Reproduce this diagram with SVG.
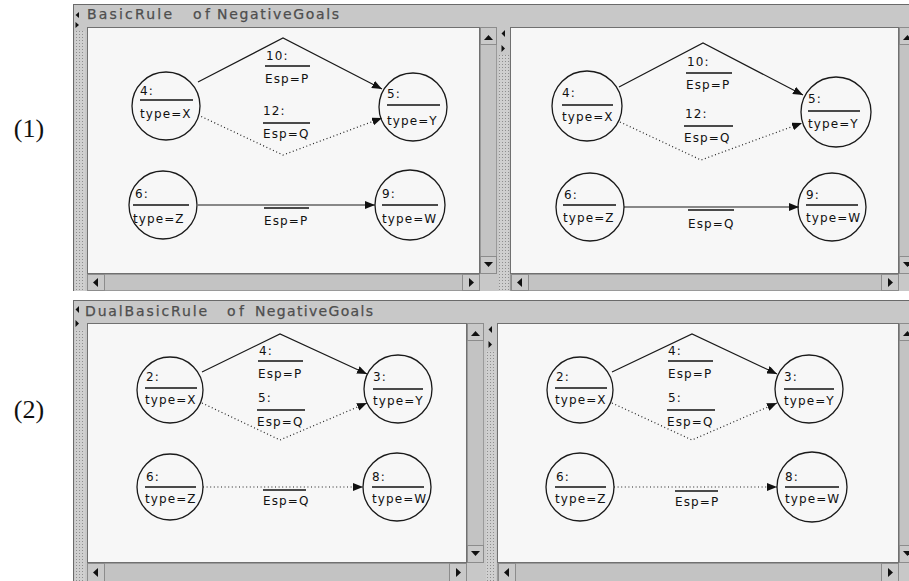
<svg xmlns="http://www.w3.org/2000/svg" width="909" height="581" viewBox="0 0 909 581">
<defs>
<style>
.win{fill:#c8c8c8}
.edge{stroke:#6a6a6a;stroke-width:1}
.canvas{fill:#f7f7f7;stroke:#707070;stroke-width:1}
.track{fill:#c3c3c3;stroke:#9a9a9a;stroke-width:1}
.btn{fill:#c9c9c9;stroke:#8c8c8c;stroke-width:1}
.tri{fill:#111}
.title{font-family:"DejaVu Sans","Liberation Sans",sans-serif;font-size:14px;fill:#4e4e4e;stroke:#4e4e4e;stroke-width:0.25}
.num{font-family:"Liberation Serif","DejaVu Serif",serif;font-size:26px;fill:#111}
.node circle{fill:none;stroke:#1a1a1a;stroke-width:1.3}
.nl{font-family:"DejaVu Sans","Liberation Sans",sans-serif;font-size:12px;fill:#111;letter-spacing:1.1px}
.ul{stroke:#111;stroke-width:1.5}
.solid{fill:none;stroke:#1a1a1a;stroke-width:1.2}
.dot{fill:none;stroke:#222;stroke-width:1.2;stroke-dasharray:1 2.6}
</style>
<pattern id="grip" width="3" height="3" patternUnits="userSpaceOnUse">
<rect width="3" height="3" fill="#cfcfcf"/>
<rect x="1" y="1" width="1" height="1" fill="#8e8e8e"/>
</pattern>
<marker id="arr" markerWidth="10" markerHeight="8" refX="10" refY="4" orient="auto" markerUnits="userSpaceOnUse">
<path d="M0,0 L10,4 L0,8 z" fill="#111"/>
</marker>
</defs>
<rect width="909" height="581" fill="#ffffff"/>

<!-- labels (1) (2) -->
<text class="num" x="29" y="137" text-anchor="middle">(1)</text>
<text class="num" x="29" y="418" text-anchor="middle">(2)</text>

<!-- ===== Top window frame ===== -->
<g id="window-top">
<rect class="win" x="73" y="4" width="840" height="287"/>
<line class="edge" x1="73" y1="4.5" x2="909" y2="4.5"/>
<line class="edge" x1="73.5" y1="4" x2="73.5" y2="291"/>
<text class="title" x="87" y="19" textLength="85" lengthAdjust="spacing">BasicRule</text>
<text class="title" x="193" y="19" textLength="17" lengthAdjust="spacing">of</text>
<text class="title" x="217" y="19" textLength="122" lengthAdjust="spacing">NegativeGoals</text>
<rect x="75" y="31" width="10" height="260" fill="url(#grip)"/>
<path class="tri" d="M79,12 L75.5,15 L79,18 z"/>
<path class="tri" d="M75.5,22 L79,25 L75.5,28 z"/>
<!-- left canvas -->
<rect class="canvas" x="87.5" y="27.5" width="392" height="246"/>
<rect class="track" x="480.5" y="27.5" width="16" height="246"/>
<rect class="btn" x="480.5" y="27.5" width="16" height="17"/>
<path class="tri" d="M484,40 L488.5,35 L493,40 z"/>
<rect class="btn" x="480.5" y="256.5" width="16" height="17"/>
<path class="tri" d="M484,262 L488.5,267 L493,262 z"/>
<rect class="track" x="87.5" y="274.5" width="392" height="16"/>
<rect class="btn" x="87.5" y="274.5" width="17" height="16"/>
<path class="tri" d="M98,278 L93,282.5 L98,287 z"/>
<rect class="btn" x="462.5" y="274.5" width="17" height="16"/>
<path class="tri" d="M469,278 L474,282.5 L469,287 z"/>
<!-- middle splitter -->
<rect x="499" y="55" width="10" height="236" fill="url(#grip)"/>
<path class="tri" d="M505,30 L501.5,33.5 L505,37 z"/>
<path class="tri" d="M501.5,45 L505,48.5 L501.5,52 z"/>
<!-- right canvas -->
<rect class="canvas" x="510.5" y="27.5" width="388" height="246"/>
<rect class="track" x="899.5" y="27.5" width="16" height="246"/>
<rect class="btn" x="899.5" y="27.5" width="16" height="17"/>
<path class="tri" d="M903,40 L907.5,35 L912,40 z"/>
<rect class="btn" x="899.5" y="256.5" width="16" height="17"/>
<path class="tri" d="M903,262 L907.5,267 L912,262 z"/>
<rect class="track" x="510.5" y="274.5" width="388" height="16"/>
<rect class="btn" x="511.5" y="274.5" width="17" height="16"/>
<path class="tri" d="M522,278 L517,282.5 L522,287 z"/>
<rect class="btn" x="881.5" y="274.5" width="17" height="16"/>
<path class="tri" d="M888,278 L893,282.5 L888,287 z"/>
</g>

<!-- ===== Bottom window frame ===== -->
<g id="window-bottom">
<rect class="win" x="73" y="300" width="840" height="281"/>
<line class="edge" x1="73" y1="300.5" x2="909" y2="300.5"/>
<line class="edge" x1="73.5" y1="300" x2="73.5" y2="581"/>
<text class="title" x="85" y="316" textLength="122" lengthAdjust="spacing">DualBasicRule</text>
<text class="title" x="227" y="316" textLength="17" lengthAdjust="spacing">of</text>
<text class="title" x="255" y="316" textLength="118" lengthAdjust="spacing">NegativeGoals</text>
<rect x="75" y="330" width="10" height="251" fill="url(#grip)"/>
<path class="tri" d="M79,306 L75.5,309.5 L79,313 z"/>
<path class="tri" d="M75.5,320 L79,323.5 L75.5,327 z"/>
<!-- left canvas -->
<rect class="canvas" x="87.5" y="323.5" width="379" height="239"/>
<rect class="track" x="467.5" y="323.5" width="16" height="239"/>
<rect class="btn" x="467.5" y="323.5" width="16" height="17"/>
<path class="tri" d="M471,336 L475.5,331 L480,336 z"/>
<rect class="btn" x="467.5" y="545.5" width="16" height="17"/>
<path class="tri" d="M471,551 L475.5,556 L480,551 z"/>
<rect class="track" x="87.5" y="563.5" width="379" height="18"/>
<rect class="btn" x="87.5" y="563.5" width="17" height="18"/>
<path class="tri" d="M98,568 L93,572.5 L98,577 z"/>
<rect class="btn" x="449.5" y="563.5" width="17" height="18"/>
<path class="tri" d="M456,568 L461,572.5 L456,577 z"/>
<!-- middle splitter -->
<rect x="486" y="351" width="10" height="230" fill="url(#grip)"/>
<path class="tri" d="M492,326 L488.5,329.5 L492,333 z"/>
<path class="tri" d="M488.5,341 L492,344.5 L488.5,348 z"/>
<!-- right canvas -->
<rect class="canvas" x="497.5" y="323.5" width="401" height="239"/>
<rect class="track" x="899.5" y="323.5" width="16" height="239"/>
<rect class="btn" x="899.5" y="323.5" width="16" height="17"/>
<path class="tri" d="M903,336 L907.5,331 L912,336 z"/>
<rect class="btn" x="899.5" y="545.5" width="16" height="17"/>
<path class="tri" d="M903,551 L907.5,556 L912,551 z"/>
<rect class="track" x="497.5" y="563.5" width="401" height="18"/>
<rect class="btn" x="498.5" y="563.5" width="17" height="18"/>
<path class="tri" d="M509,568 L504,572.5 L509,577 z"/>
<rect class="btn" x="881.5" y="563.5" width="17" height="18"/>
<path class="tri" d="M888,568 L893,572.5 L888,577 z"/>
</g>

<!-- ===== Connectors ===== -->
<g id="connectors">
<!-- top-left -->
<polyline class="solid" points="198,82 283,38 382,89" marker-end="url(#arr)"/>
<polyline class="dot" points="198,115 283,155 382,118" marker-end="url(#arr)"/>
<line class="solid" x1="198" y1="205" x2="375" y2="205" marker-end="url(#arr)"/>
<!-- top-right -->
<polyline class="solid" points="619,87 703,43 803,95" marker-end="url(#arr)"/>
<polyline class="dot" points="620,122 701,160 802,123" marker-end="url(#arr)"/>
<line class="solid" x1="624" y1="207" x2="799" y2="207" marker-end="url(#arr)"/>
<!-- bottom-left -->
<polyline class="solid" points="202,372 280,334 367,374" marker-end="url(#arr)"/>
<polyline class="dot" points="202,403 280,440 367,403" marker-end="url(#arr)"/>
<line class="dot" x1="203" y1="487" x2="363" y2="487" marker-end="url(#arr)"/>
<!-- bottom-right -->
<polyline class="solid" points="612,372 692,334 777,374" marker-end="url(#arr)"/>
<polyline class="dot" points="612,403 692,440 777,403" marker-end="url(#arr)"/>
<line class="dot" x1="614" y1="487" x2="777" y2="487" marker-end="url(#arr)"/>
</g>

<!-- ===== Edge labels ===== -->
<g id="edge-labels">
<g id="tl-e10"><text class="nl" x="266" y="60">10:</text><line class="ul" x1="265" y1="66" x2="310" y2="66"/><text class="nl" x="265" y="83">Esp=P</text></g>
<g id="tl-e12"><text class="nl" x="263" y="115">12:</text><line class="ul" x1="263" y1="123" x2="310" y2="123"/><text class="nl" x="263" y="138">Esp=Q</text></g>
<g id="tl-e"><line class="ul" x1="264" y1="208" x2="309" y2="208"/><text class="nl" x="264" y="225">Esp=P</text></g>
<g id="tr-e10"><text class="nl" x="687" y="66">10:</text><line class="ul" x1="686" y1="73" x2="732" y2="73"/><text class="nl" x="686" y="89">Esp=P</text></g>
<g id="tr-e12"><text class="nl" x="685" y="118">12:</text><line class="ul" x1="684" y1="126" x2="733" y2="126"/><text class="nl" x="684" y="142">Esp=Q</text></g>
<g id="tr-e"><line class="ul" x1="688" y1="210" x2="734" y2="210"/><text class="nl" x="688" y="228">Esp=Q</text></g>
<g id="bl-e4"><text class="nl" x="259" y="355">4:</text><line class="ul" x1="258" y1="361" x2="303" y2="361"/><text class="nl" x="258" y="378">Esp=P</text></g>
<g id="bl-e5"><text class="nl" x="258" y="402">5:</text><line class="ul" x1="257" y1="410" x2="305" y2="410"/><text class="nl" x="257" y="426">Esp=Q</text></g>
<g id="bl-e"><line class="ul" x1="263" y1="490" x2="306" y2="490"/><text class="nl" x="263" y="505">Esp=Q</text></g>
<g id="br-e4"><text class="nl" x="668" y="355">4:</text><line class="ul" x1="668" y1="361" x2="713" y2="361"/><text class="nl" x="668" y="378">Esp=P</text></g>
<g id="br-e5"><text class="nl" x="668" y="402">5:</text><line class="ul" x1="667" y1="410" x2="715" y2="410"/><text class="nl" x="667" y="426">Esp=Q</text></g>
<g id="br-e"><line class="ul" x1="675" y1="491" x2="718" y2="491"/><text class="nl" x="675" y="506">Esp=P</text></g>
</g>

<!-- ===== Nodes ===== -->
<g id="tl-n4" class="node"><circle cx="166" cy="106" r="34"/><text class="nl" x="140" y="95">4:</text><line class="ul" x1="140" y1="100" x2="193" y2="100"/><text class="nl" x="140" y="118">type=X</text></g>
<g id="tl-n5" class="node"><circle cx="413" cy="107" r="34"/><text class="nl" x="387" y="98">5:</text><line class="ul" x1="387" y1="105" x2="440" y2="105"/><text class="nl" x="387" y="125">type=Y</text></g>
<g id="tl-n6" class="node"><circle cx="163" cy="205" r="34"/><text class="nl" x="135" y="198">6:</text><line class="ul" x1="133" y1="205" x2="189" y2="205"/><text class="nl" x="133" y="223">type=Z</text></g>
<g id="tl-n9" class="node"><circle cx="410" cy="205" r="35"/><text class="nl" x="382" y="198">9:</text><line class="ul" x1="382" y1="205" x2="438" y2="205"/><text class="nl" x="382" y="223">type=W</text></g>

<g id="tr-n4" class="node"><circle cx="587" cy="106" r="35"/><text class="nl" x="562" y="97">4:</text><line class="ul" x1="562" y1="105" x2="613" y2="105"/><text class="nl" x="562" y="121">type=X</text></g>
<g id="tr-n5" class="node"><circle cx="836" cy="112" r="35"/><text class="nl" x="808" y="103">5:</text><line class="ul" x1="808" y1="111" x2="860" y2="111"/><text class="nl" x="808" y="128">type=Y</text></g>
<g id="tr-n6" class="node"><circle cx="590" cy="207" r="34"/><text class="nl" x="564" y="199">6:</text><line class="ul" x1="563" y1="205" x2="616" y2="205"/><text class="nl" x="563" y="222">type=Z</text></g>
<g id="tr-n9" class="node"><circle cx="832" cy="207" r="34"/><text class="nl" x="806" y="199">9:</text><line class="ul" x1="806" y1="205" x2="858" y2="205"/><text class="nl" x="806" y="222">type=W</text></g>

<g id="bl-n2" class="node"><circle cx="170" cy="390" r="33"/><text class="nl" x="146" y="381">2:</text><line class="ul" x1="145" y1="388" x2="197" y2="388"/><text class="nl" x="145" y="404">type=X</text></g>
<g id="bl-n3" class="node"><circle cx="398" cy="389" r="34"/><text class="nl" x="373" y="381">3:</text><line class="ul" x1="373" y1="389" x2="423" y2="389"/><text class="nl" x="373" y="405">type=Y</text></g>
<g id="bl-n6" class="node"><circle cx="170" cy="487" r="33"/><text class="nl" x="146" y="481">6:</text><line class="ul" x1="145" y1="487" x2="196" y2="487"/><text class="nl" x="145" y="503">type=Z</text></g>
<g id="bl-n8" class="node"><circle cx="397" cy="487" r="34"/><text class="nl" x="372" y="481">8:</text><line class="ul" x1="372" y1="487" x2="424" y2="487"/><text class="nl" x="372" y="503">type=W</text></g>

<g id="br-n2" class="node"><circle cx="580" cy="390" r="33"/><text class="nl" x="556" y="381">2:</text><line class="ul" x1="555" y1="388" x2="607" y2="388"/><text class="nl" x="555" y="404">type=X</text></g>
<g id="br-n3" class="node"><circle cx="809" cy="389" r="34"/><text class="nl" x="784" y="381">3:</text><line class="ul" x1="784" y1="389" x2="834" y2="389"/><text class="nl" x="784" y="405">type=Y</text></g>
<g id="br-n6" class="node"><circle cx="580" cy="487" r="34"/><text class="nl" x="556" y="481">6:</text><line class="ul" x1="555" y1="487" x2="606" y2="487"/><text class="nl" x="555" y="503">type=Z</text></g>
<g id="br-n8" class="node"><circle cx="812" cy="487" r="35"/><text class="nl" x="785" y="481">8:</text><line class="ul" x1="785" y1="487" x2="839" y2="487"/><text class="nl" x="785" y="503">type=W</text></g>
</svg>
